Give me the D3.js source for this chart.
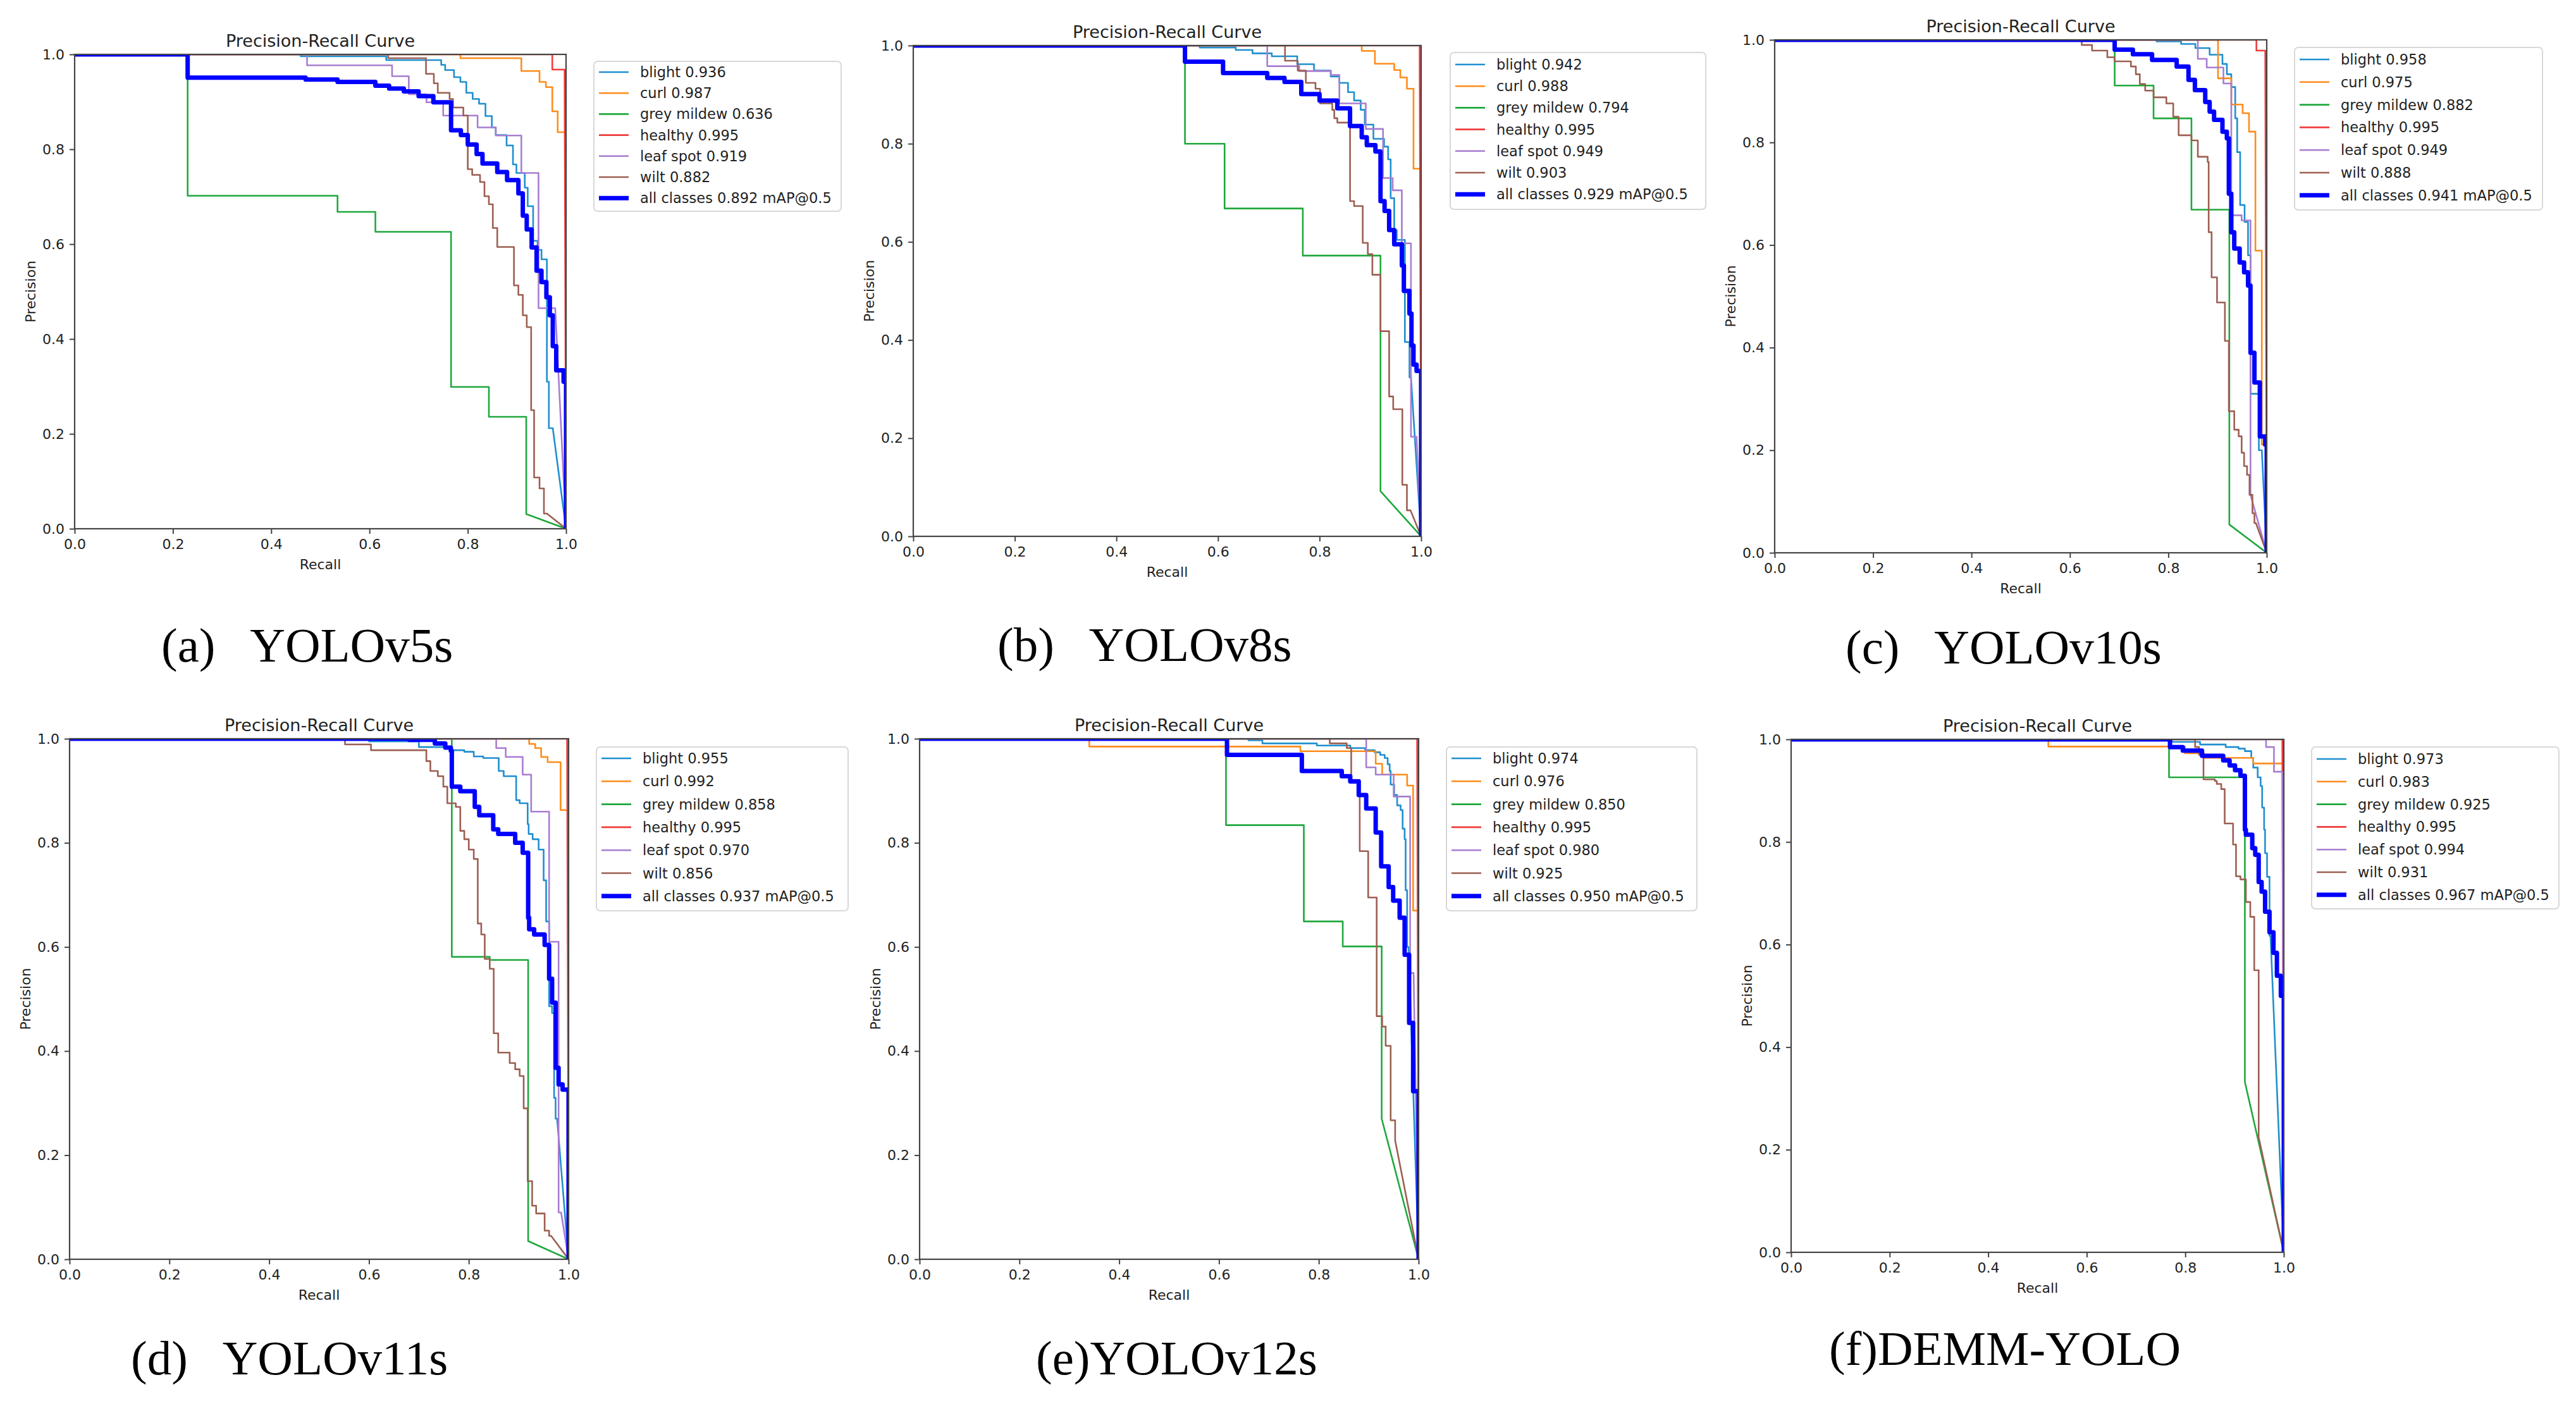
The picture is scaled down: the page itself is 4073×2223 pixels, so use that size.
<!DOCTYPE html>
<html>
<head>
<meta charset="utf-8">
<script src="https://cdn.jsdelivr.net/npm/d3@7"></script>
<style>
  html, body { margin: 0; padding: 0; background: #ffffff; }
  svg { display: block; }
  .cap { white-space: pre; }
</style>
</head>
<body>
<svg id="chart" width="4073" height="2223"></svg>
<script>
// ---------------- DATA ----------------
const classNames = ["blight", "curl", "grey mildew", "healthy", "leaf spot", "wilt", "all classes"];
const captions = ["(a)   YOLOv5s", "(b)   YOLOv8s", "(c)   YOLOv10s", "(d)   YOLOv11s", "(e)YOLOv12s", "(f)DEMM-YOLO"];
const tickValues = [0.0, 0.2, 0.4, 0.6, 0.8, 1.0];

// AP per class (blight, curl, grey mildew, healthy, leaf spot, wilt, all classes mAP@0.5)
const apA = [0.936, 0.987, 0.636, 0.995, 0.919, 0.882, 0.892];
const apB = [0.942, 0.988, 0.794, 0.995, 0.949, 0.903, 0.929];
const apC = [0.958, 0.975, 0.882, 0.995, 0.949, 0.888, 0.941];
const apD = [0.955, 0.992, 0.858, 0.995, 0.970, 0.856, 0.937];
const apE = [0.974, 0.976, 0.850, 0.995, 0.980, 0.925, 0.950];
const apF = [0.973, 0.983, 0.925, 0.995, 0.994, 0.931, 0.967];

// PR curves as steps: [recall where the level ends, precision level]; each curve then runs to (1, 0)
const curvesA = [
  [[0.46,1],[0.634,0.996],[0.746,0.988],[0.754,0.978],[0.772,0.967],[0.785,0.952],[0.797,0.942],[0.81,0.919],[0.823,0.906],[0.836,0.896],[0.849,0.87],[0.857,0.846],[0.879,0.83],[0.892,0.808],[0.899,0.768],[0.916,0.75],[0.922,0.719],[0.933,0.68],[0.942,0.607],[0.95,0.588],[0.961,0.568],[0.965,0.31],[0.973,0.212]],
  [[0.785,1],[0.909,0.992],[0.946,0.965],[0.959,0.942],[0.972,0.931],[0.983,0.88],[1.0,0.836]],
  [[0.23,1],[0.535,0.702],[0.612,0.668],[0.766,0.626],[0.843,0.299],[0.919,0.236],[0.919,0.031]],
  [[0.972,1],[0.997,0.968]],
  [[0.473,1],[0.646,0.977],[0.68,0.954],[0.716,0.916],[0.75,0.899],[0.82,0.871],[0.857,0.846],[0.909,0.829],[0.944,0.75],[0.978,0.465]],
  [[0.638,1],[0.715,0.992],[0.731,0.959],[0.739,0.939],[0.763,0.919],[0.77,0.906],[0.791,0.888],[0.80,0.871],[0.809,0.758],[0.825,0.746],[0.834,0.731],[0.843,0.701],[0.851,0.684],[0.86,0.634],[0.894,0.594],[0.903,0.513],[0.912,0.493],[0.92,0.45],[0.929,0.425],[0.935,0.25],[0.946,0.108],[0.955,0.085],[0.961,0.032]],
  [[0.23,1],[0.47,0.951],[0.535,0.947],[0.612,0.942],[0.64,0.934],[0.67,0.928],[0.70,0.922],[0.73,0.912],[0.766,0.899],[0.786,0.84],[0.80,0.83],[0.818,0.81],[0.83,0.79],[0.86,0.77],[0.88,0.752],[0.903,0.735],[0.912,0.707],[0.92,0.66],[0.93,0.631],[0.94,0.593],[0.95,0.544],[0.96,0.52],[0.967,0.488],[0.973,0.45],[0.98,0.385],[0.995,0.334],[1.0,0.31]]
];
const curvesB = [
  [[0.564,1],[0.635,0.996],[0.668,0.991],[0.706,0.984],[0.756,0.978],[0.789,0.962],[0.822,0.949],[0.839,0.937],[0.856,0.924],[0.868,0.905],[0.881,0.888],[0.889,0.869],[0.906,0.839],[0.927,0.81],[0.935,0.794],[0.94,0.768],[0.947,0.689],[0.952,0.624],[0.968,0.604],[0.977,0.396],[0.98,0.324]],
  [[0.883,1],[0.909,0.989],[0.947,0.963],[0.959,0.95],[0.972,0.935],[0.985,0.912],[1.0,0.749]],
  [[0.535,1],[0.613,0.8],[0.767,0.668],[0.92,0.572],[0.92,0.092]],
  [[0.997,1]],
  [[0.697,1],[0.76,0.958],[0.822,0.948],[0.839,0.94],[0.891,0.882],[0.925,0.83],[0.944,0.73],[0.962,0.705],[0.98,0.597],[0.991,0.203]],
  [[0.732,1],[0.757,0.969],[0.773,0.949],[0.792,0.924],[0.801,0.912],[0.825,0.882],[0.829,0.869],[0.835,0.852],[0.86,0.843],[0.868,0.683],[0.885,0.673],[0.895,0.598],[0.904,0.575],[0.92,0.533],[0.937,0.418],[0.945,0.285],[0.963,0.259],[0.972,0.105],[0.979,0.053]],
  [[0.535,1],[0.61,0.967],[0.697,0.944],[0.731,0.934],[0.764,0.926],[0.80,0.901],[0.835,0.888],[0.86,0.872],[0.883,0.836],[0.893,0.813],[0.91,0.797],[0.92,0.784],[0.928,0.683],[0.937,0.663],[0.947,0.624],[0.962,0.595],[0.966,0.552],[0.977,0.5],[0.981,0.454],[0.985,0.389],[0.991,0.35],[1.0,0.337]]
];
const curvesC = [
  [[0.776,1],[0.826,0.997],[0.855,0.992],[0.884,0.984],[0.91,0.971],[0.919,0.953],[0.928,0.933],[0.936,0.908],[0.94,0.847],[0.946,0.781],[0.955,0.678],[0.962,0.645],[0.967,0.58],[0.984,0.31],[0.99,0.2]],
  [[0.901,1],[0.928,0.925],[0.951,0.874],[0.964,0.857],[0.977,0.821],[0.99,0.589],[1.0,0.211]],
  [[0.691,1],[0.77,0.911],[0.847,0.847],[0.924,0.669],[0.924,0.055]],
  [[0.979,1],[0.997,0.979]],
  [[0.86,1],[0.878,0.963],[0.912,0.946],[0.928,0.915],[0.949,0.658],[0.967,0.648],[0.967,0.113]],
  [[0.624,1],[0.645,0.99],[0.676,0.979],[0.691,0.966],[0.724,0.958],[0.734,0.948],[0.742,0.933],[0.753,0.914],[0.77,0.901],[0.796,0.888],[0.81,0.876],[0.821,0.85],[0.847,0.814],[0.86,0.804],[0.88,0.772],[0.882,0.762],[0.888,0.625],[0.899,0.537],[0.915,0.488],[0.923,0.413],[0.934,0.276],[0.943,0.24],[0.949,0.227],[0.954,0.195],[0.96,0.169],[0.965,0.152],[0.971,0.113],[0.975,0.077],[0.978,0.058]],
  [[0.691,1],[0.728,0.981],[0.767,0.972],[0.817,0.961],[0.841,0.948],[0.854,0.922],[0.875,0.902],[0.884,0.879],[0.893,0.86],[0.910,0.844],[0.919,0.821],[0.923,0.808],[0.928,0.70],[0.934,0.625],[0.945,0.593],[0.954,0.566],[0.962,0.547],[0.967,0.521],[0.975,0.39],[0.986,0.332],[0.997,0.227],[1.0,0.211]]
];
const curvesD = [
  [[0.6,1],[0.70,0.995],[0.766,0.984],[0.791,0.978],[0.81,0.975],[0.829,0.966],[0.86,0.963],[0.87,0.938],[0.895,0.928],[0.902,0.882],[0.918,0.876],[0.92,0.836],[0.928,0.817],[0.94,0.807],[0.95,0.787],[0.955,0.728],[0.961,0.649],[0.967,0.486],[0.971,0.473],[0.974,0.31],[0.977,0.27]],
  [[0.921,1],[0.933,0.99],[0.945,0.982],[0.958,0.965],[0.984,0.955],[1.0,0.863]],
  [[0.766,1],[0.842,0.581],[0.919,0.575],[0.919,0.035]],
  [[0.997,1]],
  [[0.855,1],[0.874,0.982],[0.908,0.965],[0.925,0.931],[0.961,0.86],[0.98,0.61],[0.985,0.09]],
  [[0.552,1],[0.604,0.989],[0.715,0.978],[0.723,0.957],[0.738,0.938],[0.749,0.928],[0.757,0.908],[0.774,0.876],[0.783,0.869],[0.791,0.823],[0.80,0.807],[0.81,0.787],[0.818,0.769],[0.825,0.645],[0.832,0.624],[0.842,0.577],[0.85,0.558],[0.859,0.434],[0.882,0.397],[0.893,0.377],[0.902,0.365],[0.91,0.352],[0.918,0.29],[0.927,0.15],[0.935,0.103],[0.952,0.088],[0.961,0.055],[0.965,0.045]],
  [[0.681,1],[0.732,0.998],[0.753,0.991],[0.764,0.983],[0.766,0.977],[0.783,0.908],[0.812,0.899],[0.821,0.869],[0.849,0.853],[0.859,0.826],[0.893,0.817],[0.908,0.80],[0.919,0.781],[0.921,0.656],[0.931,0.634],[0.952,0.624],[0.961,0.604],[0.967,0.539],[0.974,0.493],[0.98,0.368],[0.988,0.336],[1.0,0.326]]
];
const curvesE = [
  [[0.659,1],[0.687,0.997],[0.796,0.991],[0.863,0.987],[0.893,0.982],[0.912,0.978],[0.923,0.974],[0.932,0.969],[0.938,0.963],[0.942,0.951],[0.944,0.938],[0.951,0.912],[0.957,0.892],[0.964,0.872],[0.968,0.863],[0.972,0.827],[0.974,0.807],[0.977,0.709],[0.98,0.60]],
  [[0.34,1],[0.763,0.985],[0.914,0.976],[0.927,0.952],[0.977,0.931],[0.989,0.91],[1.0,0.67]],
  [[0.614,1],[0.77,0.834],[0.848,0.649],[0.926,0.601],[0.926,0.27]],
  [[0.997,1]],
  [[0.895,1],[0.914,0.945],[0.95,0.931],[0.983,0.889],[0.99,0.55]],
  [[0.822,1],[0.856,0.991],[0.865,0.982],[0.882,0.921],[0.899,0.784],[0.916,0.695],[0.927,0.467],[0.934,0.447],[0.944,0.41],[0.953,0.267],[0.953,0.228]],
  [[0.616,1],[0.766,0.969],[0.846,0.938],[0.863,0.928],[0.88,0.918],[0.895,0.892],[0.914,0.866],[0.925,0.82],[0.94,0.755],[0.949,0.715],[0.962,0.689],[0.972,0.656],[0.981,0.585],[0.989,0.454],[1.0,0.323]]
];
const curvesF = [
  [[0.773,1],[0.83,0.995],[0.882,0.99],[0.908,0.985],[0.921,0.982],[0.934,0.977],[0.938,0.964],[0.947,0.945],[0.953,0.926],[0.956,0.909],[0.96,0.867],[0.962,0.824],[0.966,0.778],[0.971,0.732],[0.973,0.617]],
  [[0.522,1],[0.799,0.986],[0.838,0.973],[0.938,0.964],[1.0,0.953]],
  [[0.767,1],[0.921,0.926],[0.921,0.332]],
  [[0.997,1]],
  [[0.964,1],[0.98,0.985],[0.997,0.937]],
  [[0.82,1],[0.828,0.985],[0.837,0.97],[0.86,0.922],[0.864,0.919],[0.873,0.913],[0.88,0.903],[0.897,0.836],[0.903,0.795],[0.912,0.733],[0.923,0.727],[0.932,0.683],[0.94,0.654],[0.949,0.55],[0.949,0.224]],
  [[0.769,1],[0.795,0.985],[0.834,0.978],[0.877,0.968],[0.89,0.959],[0.901,0.949],[0.912,0.94],[0.921,0.929],[0.923,0.824],[0.936,0.814],[0.942,0.788],[0.949,0.775],[0.955,0.722],[0.962,0.703],[0.971,0.664],[0.979,0.624],[0.986,0.584],[0.994,0.539],[1.0,0.5]]
];

// ---------------- STYLE / LAYOUT ----------------
const colors = ["#1f8fcf", "#ff8c1a", "#1fa83c", "#f03c3c", "#a87dd0", "#9c5f52", "#0000ff"];
const widths = [2.6, 2.6, 2.6, 2.6, 2.6, 2.6, 7];

const panels = [
  { curves: curvesA, ap: apA, cap: captions[0], ax: [118, 86, 895, 836],  lg: [939, 97, 391, 237, 114, 33.2],  capPos: [255, 1046] },
  { curves: curvesB, ap: apB, cap: captions[1], ax: [1444, 72, 2247, 848], lg: [2293, 83, 404, 248, 102, 34.2], capPos: [1577, 1045] },
  { curves: curvesC, ap: apC, cap: captions[2], ax: [2806, 63, 3584, 874], lg: [3628, 75, 392, 257, 94, 35.8],  capPos: [2918, 1049] },
  { curves: curvesD, ap: apD, cap: captions[3], ax: [110, 1168, 899, 1991], lg: [943, 1181, 398, 259, 1199, 36.3], capPos: [207, 2173] },
  { curves: curvesE, ap: apE, cap: captions[4], ax: [1454, 1168, 2243, 1991], lg: [2287, 1181, 396, 259, 1199, 36.3], capPos: [1638, 2173] },
  { curves: curvesF, ap: apF, cap: captions[5], ax: [2832, 1169, 3611, 1980], lg: [3655, 1181, 391, 256, 1200, 35.8], capPos: [2892, 2158] }
];

const FONT = "'DejaVu Sans', sans-serif";
const svg = d3.select("#chart");
svg.append("rect").attr("width", 4073).attr("height", 2223).attr("fill", "#ffffff");
const defs = svg.append("defs");

function expand(steps) {
  const pts = [[0, steps[0][1]]];
  steps.forEach((s, i) => {
    if (i > 0) pts.push([steps[i - 1][0], s[1]]);
    pts.push([s[0], s[1]]);
  });
  pts.push([1, 0]);
  return pts;
}

panels.forEach((P, pi) => {
  const [l, t, r, b] = P.ax;
  const x = d3.scaleLinear().domain([0, 1]).range([l, r]);
  const y = d3.scaleLinear().domain([0, 1]).range([b, t]);
  const g = svg.append("g");

  defs.append("clipPath").attr("id", "clip" + pi)
    .append("rect").attr("x", l).attr("y", t).attr("width", r - l).attr("height", b - t);

  // axes
  const xa = g.append("g").attr("transform", `translate(0,${b})`)
    .call(d3.axisBottom(x).tickValues(tickValues).tickFormat(d3.format(".1f")).tickSize(8).tickPadding(8));
  const ya = g.append("g").attr("transform", `translate(${l},0)`)
    .call(d3.axisLeft(y).tickValues(tickValues).tickFormat(d3.format(".1f")).tickSize(8).tickPadding(8));
  [xa, ya].forEach(a => {
    a.select(".domain").remove();
    a.selectAll("line").attr("stroke", "#444").attr("stroke-width", 2);
    a.selectAll("text").attr("font-family", FONT).attr("font-size", 22).attr("fill", "#222");
  });

  // curves (clipped to the plotting area)
  const cg = g.append("g").attr("clip-path", `url(#clip${pi})`);
  const line = d3.line().x(d => x(d[0])).y(d => y(d[1]));
  P.curves.forEach((c, i) => {
    cg.append("path").attr("d", line(expand(c)))
      .attr("fill", "none").attr("stroke", colors[i]).attr("stroke-width", widths[i])
      .attr("stroke-linejoin", "round");
  });

  // frame (above curves)
  g.append("rect").attr("x", l).attr("y", t).attr("width", r - l).attr("height", b - t)
    .attr("fill", "none").attr("stroke", "#444").attr("stroke-width", 2.2);

  // labels
  g.append("text").attr("x", (l + r) / 2).attr("y", t - 22).attr("text-anchor", "middle")
    .attr("dominant-baseline", "central").attr("font-family", FONT).attr("font-size", 27).attr("fill", "#222")
    .text("Precision-Recall Curve");
  g.append("text").attr("x", (l + r) / 2).attr("y", b + 56).attr("text-anchor", "middle")
    .attr("dominant-baseline", "central").attr("font-family", FONT).attr("font-size", 22).attr("fill", "#222")
    .text("Recall");
  g.append("text").attr("transform", `translate(${l - 70},${(t + b) / 2}) rotate(-90)`)
    .attr("text-anchor", "middle").attr("dominant-baseline", "central")
    .attr("font-family", FONT).attr("font-size", 22).attr("fill", "#222").text("Precision");

  // legend
  const [lx, ly, lw, lh, row0, pitch] = P.lg;
  g.append("rect").attr("x", lx).attr("y", ly).attr("width", lw).attr("height", lh).attr("rx", 6)
    .attr("fill", "#ffffff").attr("fill-opacity", 0.85).attr("stroke", "#d8d8d8").attr("stroke-width", 2);
  classNames.forEach((name, i) => {
    const yy = row0 + i * pitch;
    g.append("line").attr("x1", lx + 8).attr("x2", lx + 55).attr("y1", yy).attr("y2", yy)
      .attr("stroke", colors[i]).attr("stroke-width", widths[i]);
    const label = i < 6 ? `${name} ${P.ap[i].toFixed(3)}` : `${name} ${P.ap[i].toFixed(3)} mAP@0.5`;
    g.append("text").attr("x", lx + 73).attr("y", yy).attr("dominant-baseline", "central")
      .attr("font-family", FONT).attr("font-size", 22.5).attr("fill", "#222").text(label);
  });

  // caption
  g.append("text").attr("class", "cap").attr("x", P.capPos[0]).attr("y", P.capPos[1])
    .attr("font-family", "'Liberation Serif', 'Times New Roman', serif").attr("font-size", 77)
    .attr("fill", "#000").text(P.cap);
});
</script>
</body>
</html>
